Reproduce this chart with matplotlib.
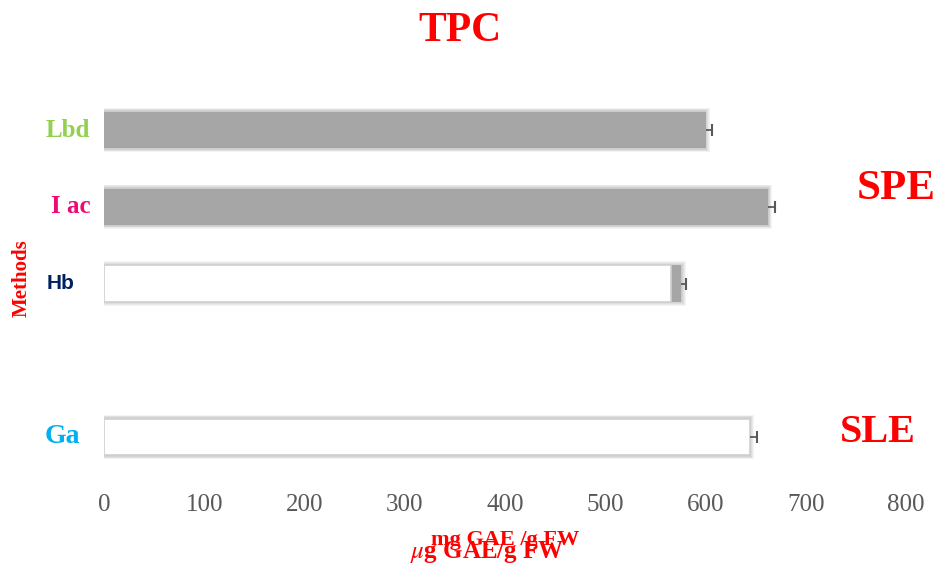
import numpy as np
import matplotlib.pyplot as plt

plt.rcParams['mathtext.fontset'] = 'stix'

# data
methods = ['Lbd', 'I ac', 'Hb', '', 'Ga']
label_colors = ['#92D050', '#EE0A74', '#002060', 'white', '#00B0F0']
label_sizes = [18, 18, 15, 10, 20]
label_offsets = [-10, -10, -21, -10, -17]
gray_vals = [600, 662, 576, 0, 0]
white_vals = [0, 0, 566, 0, 644]
errors = [6, 7, 5, 0, 7]
err_ends = [600, 662, 576, 0, 644]
ticks = [0, 100, 200, 300, 400, 500, 600, 700, 800]

fig = plt.figure(figsize=(9.39, 5.65), dpi=100)
ax = fig.add_axes([0.1108, 0.1451, 0.8541, 0.7062])

y = np.arange(len(methods))
h = 0.47

# soft blurred shadow around the bars
for k in range(5):
    for i in range(len(methods)):
        v = max(gray_vals[i], white_vals[i])
        if v > 0:
            ax.barh(y[i], v + 2 * (k + 1) * 0.9, height=h + 0.022 * (k + 1),
                    left=-(k + 1) * 0.9, color='black', alpha=0.045,
                    linewidth=0, zorder=1)

gy = [yy for yy, v in zip(y, gray_vals) if v > 0]
gv = [v for v in gray_vals if v > 0]
ax.barh(gy, gv, height=h, color='#A6A6A6', linewidth=0, zorder=2)
wy = [yy for yy, v in zip(y, white_vals) if v > 0]
wv = [v for v in white_vals if v > 0]
ax.barh(wy, wv, height=h, color='white', edgecolor='#D0D0D0', linewidth=1.2, zorder=3)

# one-sided error bars: line plus right cap only
for i in range(len(methods)):
    if errors[i] > 0:
        ax.errorbar(err_ends[i], y[i], xerr=[[0], [errors[i]]], fmt='none',
                    ecolor='#595959', elinewidth=1.3, capsize=0, zorder=4)
        ax.plot(err_ends[i] + errors[i], y[i], marker='|', markersize=9,
                markeredgewidth=1.5, color='#595959', zorder=4)

ax.set_xlim(0, 800)
ax.set_ylim(4.6, -0.6)
ax.set_xticks(ticks)
ax.set_xticklabels([str(t) for t in ticks], family='Liberation Serif', fontsize=18, color='#595959')
ax.tick_params(axis='x', length=0, pad=8)
ax.set_yticks([])
for yi, name, c, sz, off in zip(y, methods, label_colors, label_sizes, label_offsets):
    if not name:
        continue
    fam = 'Liberation Sans' if name == 'Hb' else 'Liberation Serif'
    ax.annotate(name, xy=(0, yi), xycoords=('axes fraction', 'data'),
                xytext=(off, 0), textcoords='offset points', ha='right', va='center',
                color=c, family=fam, fontweight='bold', fontsize=sz)
for s in ax.spines.values():
    s.set_visible(False)

red = '#FF0000'
fig.text(0.49, 0.945, 'TPC', ha='center', va='center', color=red,
         family='Liberation Serif', fontweight='bold', fontsize=30)
fig.text(0.954, 0.665, 'SPE', ha='center', va='center', color=red,
         family='Liberation Serif', fontweight='bold', fontsize=31)
fig.text(0.935, 0.235, 'SLE', ha='center', va='center', color=red,
         family='Liberation Serif', fontweight='bold', fontsize=29)
fig.text(0.023, 0.508, 'Methods', ha='center', va='center', rotation=90, color=red,
         family='Liberation Serif', fontweight='bold', fontsize=15)
fig.text(0.538, 0.044, 'mg GAE /g FW', ha='center', va='center', color=red,
         family='Liberation Serif', fontweight='bold', fontsize=16)
fig.text(0.519, 0.023, r'$\mu$g GAE/g FW', ha='center', va='center', color=red,
         family='Liberation Serif', fontweight='bold', fontsize=18)

fig.savefig('out.png', dpi=100)
